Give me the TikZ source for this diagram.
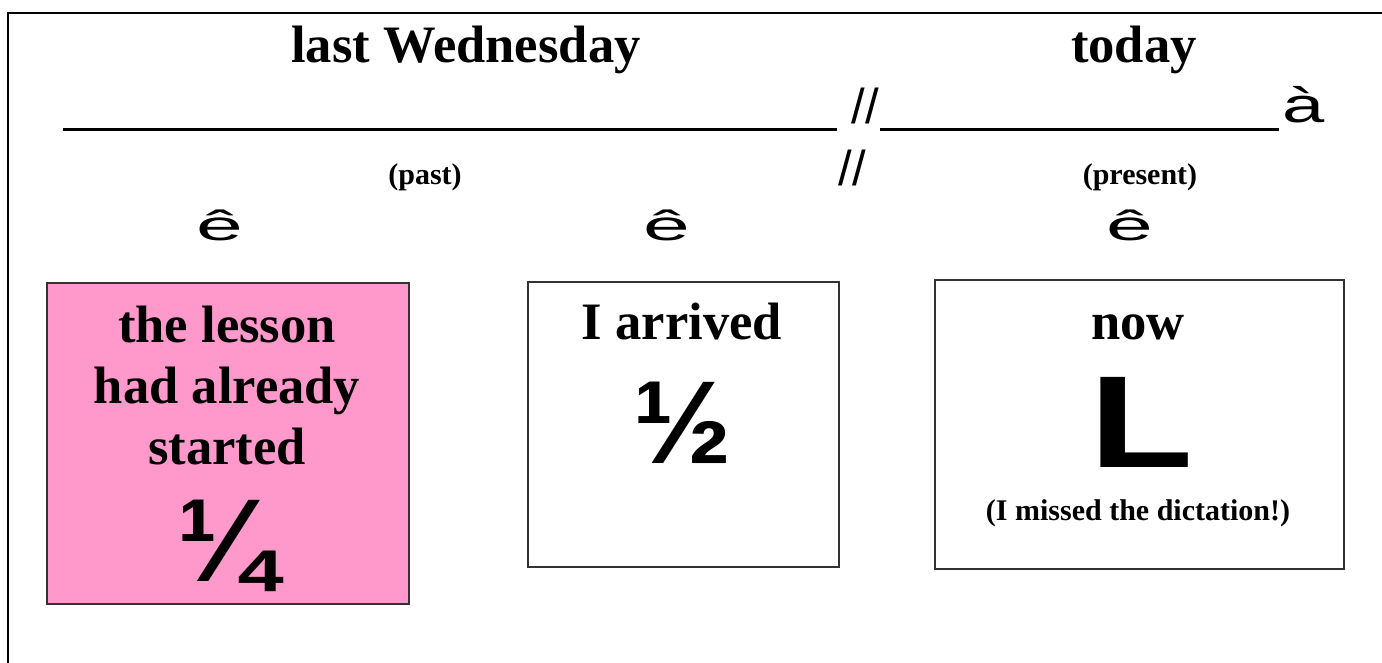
\documentclass[tikz,border=0pt]{standalone}
\usepackage{fontspec}
\usepackage{graphicx}
\setmainfont{Liberation Serif}
\newfontfamily\glyphfont{Liberation Sans}
\definecolor{lessonpink}{HTML}{FF99CC}
\newcommand{\widened}[2]{\scalebox{#1}[1]{#2}}

\begin{document}
\begin{tikzpicture}[
  x=0.5pt, y=-0.5pt,
  headline/.style={font=\fontsize{26.3}{30.5}\selectfont\bfseries,
    anchor=base, inner sep=0pt, align=center},
  tag/.style={font=\fontsize{15}{18}\selectfont\bfseries, anchor=base, inner sep=0pt},
  pointer/.style={font=\glyphfont\fontsize{21}{24}\selectfont, anchor=base, inner sep=0pt},
  breakmark/.style={font=\glyphfont\fontsize{24.5}{28}\selectfont, anchor=base, inner sep=0pt},
  bigglyph/.style={font=\glyphfont\bfseries\fontsize{59}{66}\selectfont, anchor=base, inner sep=0pt},
  card/.style={draw=black!80, line width=0.8pt, anchor=north west, inner sep=0pt},
  timeline/.style={line width=1.5pt},
]
\useasboundingbox (0,0) rectangle (1382,663);

% Frame
\draw[line width=1pt] (8,663) -- (8,13) -- (1382,13);

% Headings
\node[headline] (lastwed) at (466,63) {last Wednesday};
\node[headline] (today) at (1134,63) {today};

% Time line with the break
\coordinate (tl0) at (63,130);
\coordinate (tl1) at (837,130);
\coordinate (tl2) at (880,130);
\coordinate (tl3) at (1279,130);
\draw[timeline] (tl0) -- (tl1);
\draw[timeline] (tl2) -- (tl3);
\node[breakmark] (breakup) at (865,124) {//};
\node[breakmark] (breakdown) at (852,186) {//};
\node[breakmark] (lineend) at (1304,123) {\widened{1.55}{à}};

\node[tag] (past) at (425,185) {(past)};
\node[tag] (present) at (1140,185) {(present)};

% Down pointers
\node[pointer] (downpast) at (220,241) {\widened{2}{ê}};
\node[pointer] (downarrive) at (667,241) {\widened{2}{ê}};
\node[pointer] (downnow) at (1130,241) {\widened{2}{ê}};

% Cards
\node[card, fill=lessonpink, minimum width=181pt, minimum height=160.5pt]
  (pastcard) at (46,282) {};
\node[card, minimum width=155.5pt, minimum height=142.5pt]
  (arrivecard) at (527,281) {};
\node[card, minimum width=204.5pt, minimum height=144.5pt]
  (nowcard) at (934,279) {};

% base of a multi-line node is its last line
\node[headline] (lesson) at (227,464) {the lesson\\had already\\started};
\node[bigglyph] (quarter) at (227,581) {¼};

\node[headline] (arrived) at (682,340) {I arrived};
\node[bigglyph] (half) at (683,463) {½};

\node[headline] (now) at (1138,340) {now};
\node[bigglyph, font=\glyphfont\bfseries\fontsize{65.5}{70}\selectfont]
  (sad) at (1142,467) {\widened{1.3}{L}};
\node[tag] (missed) at (1138,520) {(I missed the dictation!)};
\end{tikzpicture}
\end{document}
